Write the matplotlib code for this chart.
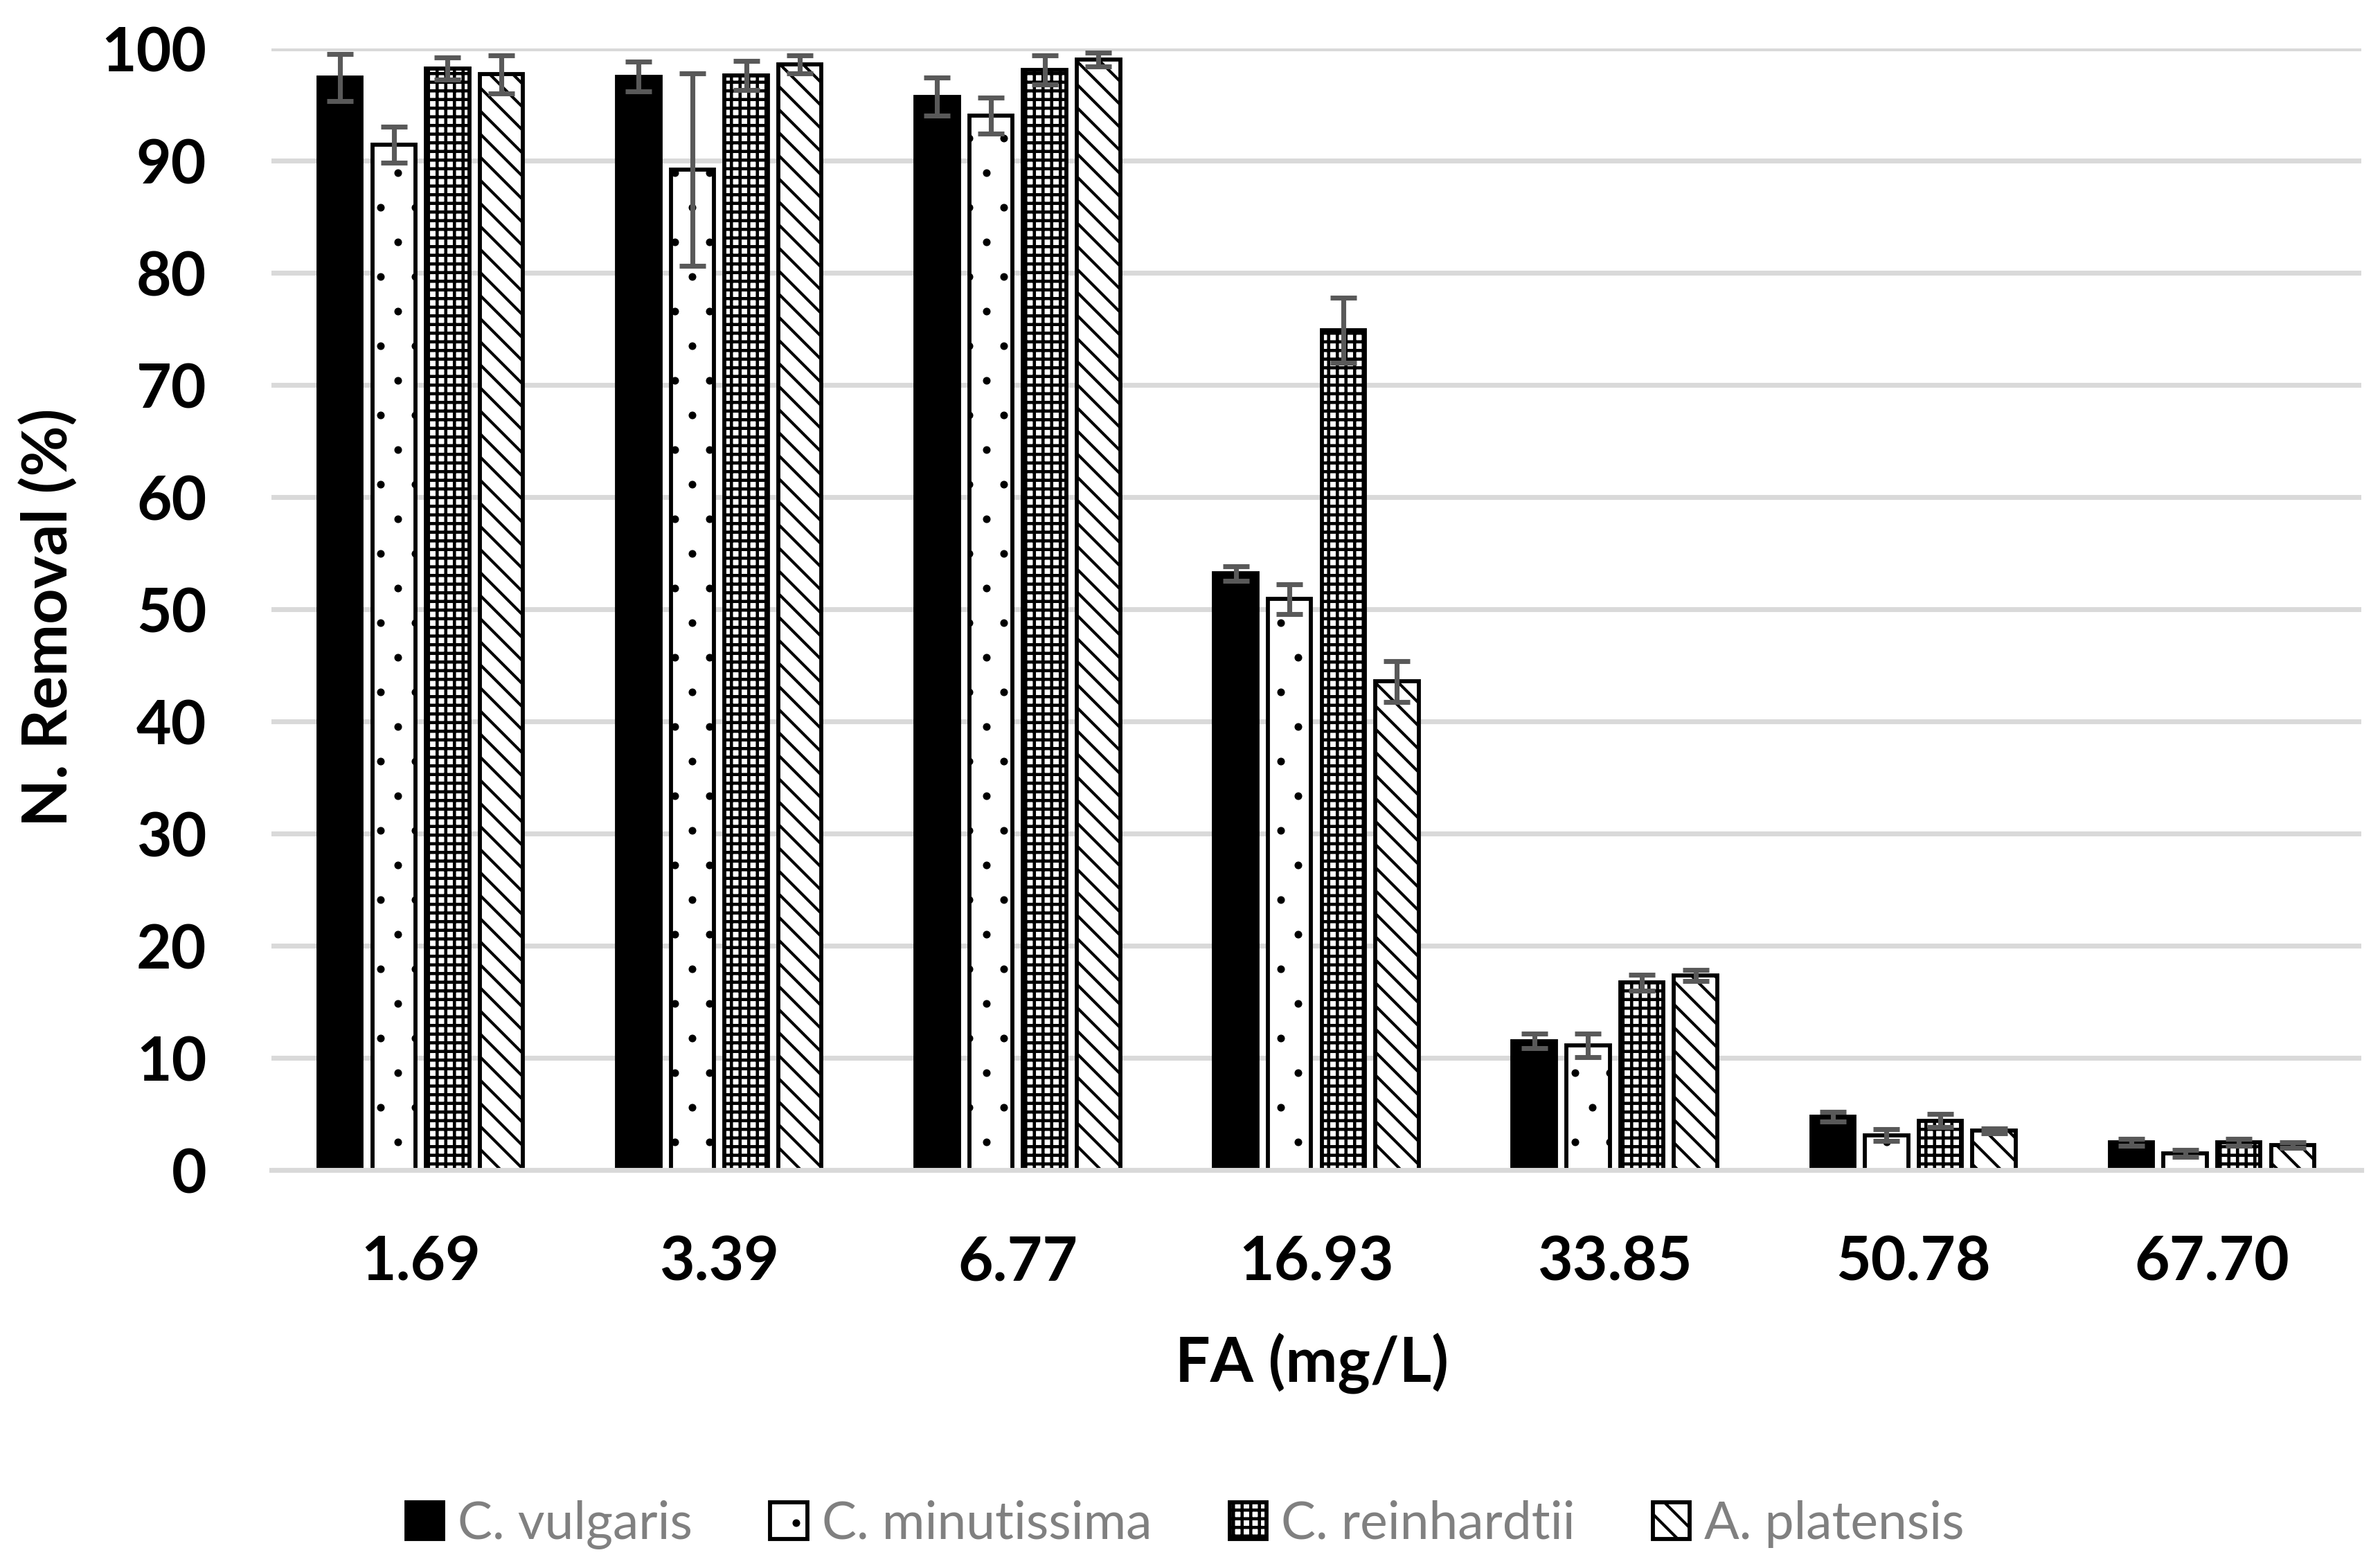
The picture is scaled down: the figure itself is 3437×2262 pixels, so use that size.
import numpy as np
import matplotlib
matplotlib.use("Agg")
import matplotlib.pyplot as plt

# N. removal (%) of four microalgae at each FA concentration
fa_levels = ['1.69', '3.39', '6.77', '16.93', '33.85', '50.78', '67.70']
species = ['C. vulgaris', 'C. minutissima', 'C. reinhardtii', 'A. platensis']

vulgaris = [97.4, 97.5, 95.7, 53.2, 11.5, 4.75, 2.45]
vulgaris_err = [2.1, 1.3, 1.7, 0.65, 0.65, 0.43, 0.3]

minutissima = [91.4, 89.2, 94.0, 50.9, 11.1, 3.1, 1.5]
minutissima_err = [1.6, 8.6, 1.6, 1.35, 1.05, 0.52, 0.3]

reinhardtii = [98.2, 97.6, 98.1, 74.9, 16.7, 4.4, 2.45]
reinhardtii_err = [1.0, 1.3, 1.3, 2.9, 0.7, 0.6, 0.3]

platensis = [97.7, 98.6, 99.0, 43.55, 17.35, 3.5, 2.25]
platensis_err = [1.7, 0.8, 0.6, 1.85, 0.47, 0.2, 0.25]

values = [vulgaris, minutissima, reinhardtii, platensis]
errors = [vulgaris_err, minutissima_err, reinhardtii_err, platensis_err]

# Excel-like pattern fills: solid, sparse dots, checker, downward diagonal
faces = ['black', 'white', 'white', 'white']
hatches = [None, '.', '++++', '\\\\\\']
hatch_lw = [1.0, 0.25, 1.1, 1.0]

plt.rcParams['font.family'] = ['Lato', 'DejaVu Sans']
plt.rcParams['hatch.color'] = 'black'

DPI = 300
fig = plt.figure(figsize=(3437 / DPI, 2262 / DPI), dpi=DPI)
ax = fig.add_axes([392 / 3437, 1 - 1690 / 2262, 3018 / 3437, 1620 / 2262])

x = np.arange(len(fa_levels))
step = 0.18
width = 0.145

for i in range(4):
    pos = x + (i - 1.5) * step
    with plt.rc_context({'hatch.linewidth': hatch_lw[i]}):
        bars = ax.bar(pos, values[i], width, color=faces[i], edgecolor='black',
                      linewidth=1.4, hatch=hatches[i], label=species[i], zorder=2)
    for b in bars:
        if hasattr(b, 'set_hatch_linewidth'):
            b.set_hatch_linewidth(hatch_lw[i])
    ax.errorbar(pos, values[i], yerr=errors[i], fmt='none', ecolor='#595959',
                elinewidth=1.7, capsize=4.6, capthick=1.7, zorder=4)

ax.set_xlim(-0.5, len(fa_levels) - 0.5)
ax.set_ylim(0, 100)
ax.set_yticks(np.arange(0, 101, 10))
ax.set_xticks(x)
ax.set_xticklabels(fa_levels)

ax.yaxis.grid(True, color='#D9D9D9', linewidth=1.7)
ax.set_axisbelow(True)
for side in ['top', 'left', 'right']:
    ax.spines[side].set_visible(False)
ax.spines['bottom'].set_color('#D9D9D9')
ax.spines['bottom'].set_linewidth(1.7)
ax.spines['bottom'].set_zorder(5)

ax.tick_params(axis='both', length=0, labelsize=21)
ax.tick_params(axis='x', pad=22.5)
ax.tick_params(axis='y', pad=22.5)
for lab in ax.get_xticklabels() + ax.get_yticklabels():
    lab.set_fontweight('bold')

ax.set_ylabel('N. Removal (%)', fontsize=21.5, fontweight='bold')
ax.yaxis.set_label_coords(-0.0925, 0.4926)
ax.set_xlabel('FA (mg/L)', fontsize=21.5, fontweight='bold')
ax.xaxis.set_label_coords(0.498, -0.1457)

leg = fig.legend(loc='center', bbox_to_anchor=(0.498, 0.0265), ncol=4,
                 frameon=False, fontsize=18, handlelength=0.71,
                 handleheight=0.72, handletextpad=0.28, columnspacing=1.5)
for t in leg.get_texts():
    t.set_color('#808080')
for h, lw in zip(leg.legend_handles, hatch_lw):
    if hasattr(h, 'set_hatch_linewidth'):
        h.set_hatch_linewidth(lw)

fig.savefig('out.png', dpi=DPI)
